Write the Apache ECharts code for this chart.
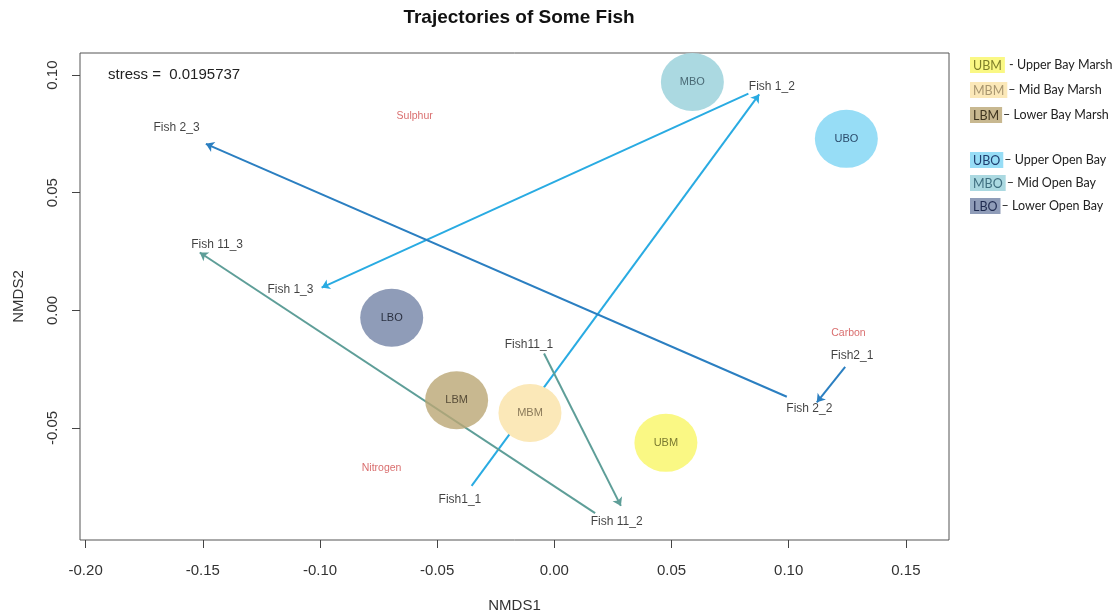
<!DOCTYPE html>
<html>
<head>
<meta charset="utf-8">
<title>Trajectories of Some Fish</title>
<script src="https://cdn.jsdelivr.net/npm/echarts@6/dist/echarts.min.js"></script>
<style>
  html, body { margin: 0; padding: 0; background: #ffffff; }
  #chart { width: 1118px; height: 616px; }
</style>
</head>
<body>
<div id="chart"></div>
<script>
// Habitat site centroids in NMDS space
const siteNames = ['UBM', 'MBM', 'LBM', 'UBO', 'MBO', 'LBO'];
const siteX = [0.0476, -0.0104, -0.0417, 0.1246, 0.0589, -0.0694];
const siteY = [-0.0563, -0.0436, -0.0382, 0.0729, 0.0971, -0.0031];
const siteDesc = ['- Upper Bay Marsh', '– Mid Bay Marsh', '– Lower Bay Marsh',
                  '– Upper Open Bay', '– Mid Open Bay', '– Lower Open Bay'];

// Fish sample positions (labels)
const fishNames = ['Fish1_1', 'Fish 1_2', 'Fish 1_3', 'Fish2_1', 'Fish 2_2', 'Fish 2_3',
                   'Fish11_1', 'Fish 11_2', 'Fish 11_3'];
const fishX = [-0.0403, 0.0928, -0.1126, 0.1270, 0.1088, -0.1612, -0.0108, 0.0266, -0.1439];
const fishY = [-0.0806, 0.0952, 0.0087, -0.0192, -0.0419, 0.0776, -0.0145, -0.0898, 0.0281];

// Element vectors labels
const elementNames = ['Sulphur', 'Nitrogen', 'Carbon'];
const elementX = [-0.0596, -0.0737, 0.1255];
const elementY = [0.0826, -0.0671, -0.0098];

// Trajectory segments: [startX, startY, endX, endY]
const fish1Segments = [[-0.0353, -0.0746, 0.0874, 0.0918], [0.0828, 0.0921, -0.0993, 0.0097]];
const fish2Segments = [[0.1241, -0.0240, 0.1120, -0.0391], [0.0992, -0.0367, -0.1487, 0.0708]];
const fish11Segments = [[-0.0044, -0.0183, 0.0284, -0.0831], [0.0174, -0.0862, -0.1513, 0.0246]];

// Axis ticks
const xTicks = [-0.20, -0.15, -0.10, -0.05, 0.00, 0.05, 0.10, 0.15];
const yTicks = [-0.05, 0.00, 0.05, 0.10];

const stressText = 'stress =  0.0195737';

const FONT = 'Liberation Sans, Arial, sans-serif';
const LEG_FONT = 'Lato, Open Sans, sans-serif';

const siteFill = {
  UBM: { color: '#FAF884', opacity: 1, text: '#7A7A30' },
  MBM: { color: '#FBE8B8', opacity: 1, text: '#8A7A5A' },
  LBM: { color: '#BAA674', opacity: 0.8, text: '#3A3020' },
  UBO: { color: '#97DDF6', opacity: 1, text: '#2A4A6A' },
  MBO: { color: '#ABD9E1', opacity: 1, text: '#4A6A75' },
  LBO: { color: '#8F9CB8', opacity: 1, text: '#2A3040' }
};
const legendBox = {
  UBM: { bg: '#FAF884', fg: '#7F7F2A' },
  MBM: { bg: '#FBE8B8', fg: '#A89670' },
  LBM: { bg: '#C8B890', fg: '#3F3520' },
  UBO: { bg: '#97DDF6', fg: '#1F3F6F' },
  MBO: { bg: '#ABD9E1', fg: '#3F6F80' },
  LBO: { bg: '#8F9CB8', fg: '#1F2A4F' }
};

function segData(segs) {
  return segs.map(s => ({ coords: [[s[0], s[1]], [s[2], s[3]]] }));
}
function arrowSeries(segs, color) {
  return {
    type: 'lines',
    coordinateSystem: 'cartesian2d',
    z: 2,
    symbol: ['none', 'arrow'],
    symbolSize: 8,
    lineStyle: { color: color, width: 2, opacity: 1, curveness: 0 },
    data: segData(segs),
    silent: true
  };
}

const rich = { d: { fontFamily: LEG_FONT, fontSize: 12.5, color: '#222', padding: [0, 0, 0, 1] } };
siteNames.forEach(n => {
  rich[n] = {
    backgroundColor: legendBox[n].bg, color: legendBox[n].fg,
    fontFamily: LEG_FONT, fontSize: 12.5, padding: [2, 3, 1, 3]
  };
});
function legendFormatter(name) {
  const i = siteNames.indexOf(name);
  return '{' + name + '|' + name + '}{d|' + (name === 'UBM' ? ' ' : '') + siteDesc[i] + '}';
}

const series = [
  arrowSeries(fish1Segments, '#29ABE2'),
  arrowSeries(fish2Segments, '#2B7FC1'),
  arrowSeries(fish11Segments, '#5E9E98')
];

siteNames.forEach((n, i) => {
  series.push({
    name: n,
    type: 'scatter',
    z: 3,
    symbol: 'circle',
    symbolSize: [63, 58],
    itemStyle: { color: siteFill[n].color, opacity: siteFill[n].opacity },
    label: {
      show: true, position: 'inside', formatter: n,
      color: siteFill[n].text, fontFamily: FONT, fontSize: 11
    },
    data: [[siteX[i], siteY[i]]],
    silent: true
  });
});

series.push({
  type: 'scatter', z: 4, symbolSize: 0,
  label: { show: true, position: 'inside', formatter: p => p.name, color: '#111', fontFamily: FONT, fontSize: 12 },
  data: fishNames.map((n, i) => ({ name: n, value: [fishX[i], fishY[i]] })),
  silent: true
});
series.push({
  type: 'scatter', z: 4, symbolSize: 0,
  label: { show: true, position: 'inside', formatter: p => p.name, color: '#D04A4A', fontFamily: FONT, fontSize: 10.5 },
  data: elementNames.map((n, i) => ({ name: n, value: [elementX[i], elementY[i]] })),
  silent: true
});

const chart = echarts.init(document.getElementById('chart'), null, { renderer: 'canvas' });
chart.setOption({
  animation: false,
  backgroundColor: '#ffffff',
  title: [
    {
      text: 'Trajectories of Some Fish', left: 514, top: 3, textAlign: 'center',
      textStyle: { fontFamily: FONT, fontSize: 19, fontWeight: 'bold', color: '#111' }
    },
    {
      text: stressText, left: 103, top: 62,
      textStyle: { fontFamily: FONT, fontSize: 15, fontWeight: 'normal', color: '#222' }
    }
  ],
  legend: [
    {
      orient: 'vertical', left: 960, top: 52, itemGap: 9, itemWidth: 0, itemHeight: 0,
      icon: 'rect', selectedMode: false,
      data: ['UBM', 'MBM', 'LBM'],
      formatter: legendFormatter, textStyle: { rich: rich }
    },
    {
      orient: 'vertical', left: 960, top: 147, itemGap: 7, itemWidth: 0, itemHeight: 0,
      icon: 'rect', selectedMode: false,
      data: ['UBO', 'MBO', 'LBO'],
      formatter: legendFormatter, textStyle: { rich: rich }
    }
  ],
  grid: {
    left: 80, right: 169, top: 53, bottom: 76,
    outerBoundsMode: 'none', containLabel: false,
    show: true, borderColor: '#555', borderWidth: 1, backgroundColor: 'transparent'
  },
  xAxis: {
    type: 'value', min: -0.2024, max: 0.1684,
    name: 'NMDS1', nameLocation: 'middle', nameGap: 58,
    nameTextStyle: { fontFamily: FONT, fontSize: 15, color: '#333' },
    splitLine: { show: false },
    axisLine: { show: false, onZero: false },
    axisTick: { show: true, customValues: xTicks, length: 8, inside: false, lineStyle: { color: '#444' } },
    axisLabel: {
      customValues: xTicks, margin: 23,
      formatter: v => v.toFixed(2),
      fontFamily: FONT, fontSize: 15, color: '#333'
    }
  },
  yAxis: {
    type: 'value', min: -0.0976, max: 0.1094,
    name: 'NMDS2', nameLocation: 'middle', nameGap: 54, nameRotate: 90,
    nameTextStyle: { fontFamily: FONT, fontSize: 15, color: '#333' },
    splitLine: { show: false },
    axisLine: { show: false, onZero: false },
    axisTick: { show: true, customValues: yTicks, length: 8, inside: false, lineStyle: { color: '#444' } },
    axisLabel: {
      customValues: yTicks, margin: 20, rotate: 90,
      formatter: v => v.toFixed(2),
      fontFamily: FONT, fontSize: 15, color: '#333'
    }
  },
  series: series
});
</script>
</body>
</html>
